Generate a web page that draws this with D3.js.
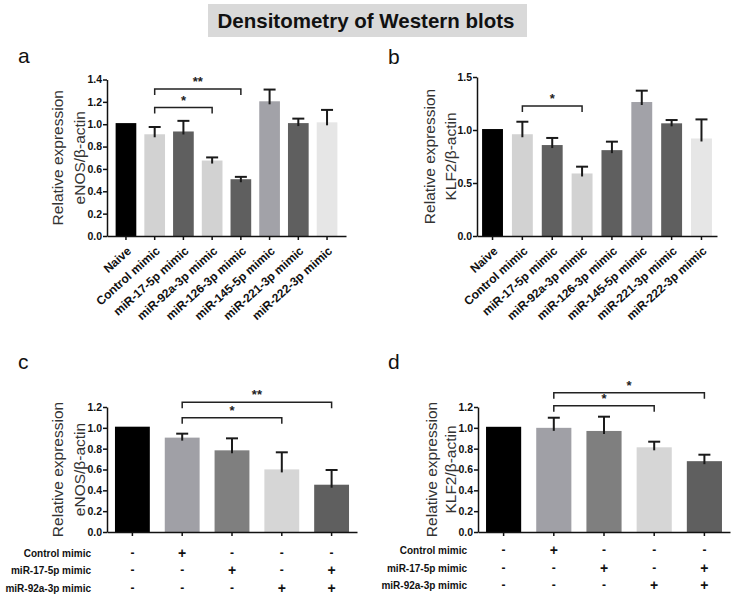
<!DOCTYPE html>
<html><head><meta charset="utf-8">
<script src="https://cdn.jsdelivr.net/npm/d3@7"></script>
<style>body{margin:0;background:#fff;} text{font-family:"Liberation Sans",Arial,sans-serif;}</style>
</head><body>
<svg id="chart" width="733" height="598"></svg>
<script>
// ---- data ----
const catsAB = ["Naive","Control mimic","miR-17-5p mimic","miR-92a-3p mimic","miR-126-3p mimic","miR-145-5p mimic","miR-221-3p mimic","miR-222-3p mimic"];
const eNOS_a = [1.01, 0.91, 0.935, 0.675, 0.508, 1.205, 1.01, 1.017];
const eNOS_a_err = [0, 0.065, 0.095, 0.028, 0.021, 0.105, 0.04, 0.111];
const KLF2_b = [1.009, 0.96, 0.858, 0.59, 0.81, 1.264, 1.063, 0.92];
const KLF2_b_err = [0, 0.118, 0.067, 0.064, 0.08, 0.107, 0.031, 0.18];
const catsCD = ["G1","G2","G3","G4","G5"];
const eNOS_c = [1.011, 0.906, 0.784, 0.601, 0.454];
const eNOS_c_err = [0, 0.038, 0.115, 0.164, 0.141];
const KLF2_d = [1.01, 1.0, 0.97, 0.813, 0.68];
const KLF2_d_err = [0, 0.097, 0.137, 0.054, 0.062];
const colorsAB = ["#000000","#d2d2d2","#5f5f5f","#d2d2d2","#5f5f5f","#a2a2a8","#5f5f5f","#e6e6e6"];
const colorsCD = ["#000000","#a0a0a6","#7f7f7f","#d6d6d6","#5f5f5f"];
const tableRows = ["Control mimic","miR-17-5p mimic","miR-92a-3p mimic"];
const tableSigns = [["-","+","-","-","-"],["-","-","+","-","+"],["-","-","-","+","+"]];
const ticksA = [0,0.2,0.4,0.6,0.8,1.0,1.2,1.4];
const ticksB = [0,0.5,1.0,1.5];
const ticksCD = [0,0.2,0.4,0.6,0.8,1.0,1.2];

const svg = d3.select("#chart");
const FONT = '"Liberation Sans",Arial,sans-serif';

// title
svg.append("rect").attr("x",208).attr("y",4).attr("width",319).attr("height",33).attr("fill","#d9d9d9");
svg.append("text").attr("x",366).attr("y",28).attr("text-anchor","middle")
  .attr("font-size",20.5).attr("font-weight","bold").attr("fill","#111").text("Densitometry of Western blots");

function panel(o){
  const g = svg.append("g");
  const x = d3.scaleBand().domain(o.cats).range(o.xr).paddingInner(o.pi).paddingOuter(o.po);
  const y = d3.scaleLinear().domain([0,o.ymax]).range(o.yr);
  // bars
  g.selectAll("rect.bar").data(o.vals).join("rect")
    .attr("x",(d,i)=>x(o.cats[i])).attr("width",x.bandwidth())
    .attr("y",d=>y(d)).attr("height",d=>y(0)-y(d))
    .attr("fill",(d,i)=>o.colors[i]);
  // error bars
  o.vals.forEach((v,i)=>{
    if(!o.err[i]) return;
    const cx = x(o.cats[i])+x.bandwidth()/2;
    g.append("line").attr("x1",cx).attr("x2",cx).attr("y1",y(v)+3).attr("y2",y(v+o.err[i]))
      .attr("stroke","#1a1a1a").attr("stroke-width",2);
    g.append("line").attr("x1",cx-o.cap).attr("x2",cx+o.cap).attr("y1",y(v+o.err[i])).attr("y2",y(v+o.err[i]))
      .attr("stroke","#1a1a1a").attr("stroke-width",2);
  });
  // y axis
  const ya = g.append("g").attr("transform",`translate(${o.xr[0]},0)`)
    .call(d3.axisLeft(y).tickValues(o.ticks).tickSize(4).tickSizeOuter(0).tickFormat(d3.format(".1f")));
  ya.select(".domain").attr("stroke","#111").attr("stroke-width",1.5);
  ya.selectAll(".tick line").attr("stroke","#111").attr("stroke-width",1.5);
  ya.selectAll(".tick text").attr("font-size",10.5).attr("font-weight","bold").attr("fill","#111").attr("font-family",FONT).attr("x",-5);
  // x axis
  const xa = g.append("g").attr("transform",`translate(0,${o.yr[0]})`)
    .call(d3.axisBottom(x).tickSize(4).tickSizeOuter(0));
  xa.select(".domain").attr("stroke","#111").attr("stroke-width",1.5);
  xa.selectAll(".tick line").attr("stroke","#111").attr("stroke-width",1.5);
  if(o.rotLabels){
    xa.selectAll(".tick text").attr("font-size",12).attr("font-weight","bold").attr("fill","#111")
      .attr("font-family",FONT).attr("text-anchor","end").attr("y",0).attr("dy",0)
      .attr("transform","translate(6,16) rotate(-42)");
  } else {
    xa.selectAll(".tick text").remove();
  }
  // y label
  const ly = (o.yr[0]+o.yr[1])/2;
  o.ylab.forEach((t,k)=>{
    g.append("text").attr("transform",`translate(${o.ylx[k]},${ly}) rotate(-90)`)
      .attr("text-anchor","middle").attr("font-size",15.5).attr("fill","#333").text(t);
  });
  // panel letter
  g.append("text").attr("x",o.letter[0]).attr("y",o.letter[1]).attr("font-size",21).attr("fill","#111").text(o.letterT);
  // brackets
  o.brackets.forEach(b=>{
    const x1 = x(o.cats[b[0]])+x.bandwidth()/2, x2 = x(o.cats[b[1]])+x.bandwidth()/2;
    g.append("path").attr("d",`M${x1},${b[2]+6}V${b[2]}H${x2}V${b[2]+6}`)
      .attr("fill","none").attr("stroke","#222").attr("stroke-width",1.5);
    g.append("text").attr("x",(x1+x2)/2).attr("y",b[2]-3).attr("text-anchor","middle")
      .attr("font-size",13).attr("font-weight","bold").attr("fill","#222").text(b[3]);
  });
  // table
  if(o.table){
    tableRows.forEach((r,ri)=>{
      const yy = o.table.rows[ri];
      g.append("text").attr("x",o.table.lx).attr("y",yy).attr("text-anchor","end").attr("dominant-baseline","middle")
        .attr("font-size",10).attr("font-weight","bold").attr("fill","#111").text(r);
      tableSigns[ri].forEach((s,ci)=>{
        g.append("text").attr("x",x(o.cats[ci])+x.bandwidth()/2).attr("y",yy).attr("text-anchor","middle")
          .attr("dominant-baseline","middle").attr("font-size",s==="+"?14:12).attr("font-weight","bold")
          .attr("fill","#111").text(s);
      });
    });
  }
}

panel({cats:catsAB, vals:eNOS_a, err:eNOS_a_err, colors:colorsAB, xr:[107,346], pi:0.28, po:0.3,
  ymax:1.4, yr:[236,79.5], ticks:ticksA, cap:6, rotLabels:true, ylab:["Relative expression","eNOS/β-actin"], ylx:[63,85],
  letter:[18,63], letterT:"a", brackets:[[1,4,89,"**"],[1,3,107.5,"*"]]});
panel({cats:catsAB, vals:KLF2_b, err:KLF2_b_err, colors:colorsAB, xr:[477,717], pi:0.3, po:0.17,
  ymax:1.5, yr:[236,77], ticks:ticksB, cap:6, rotLabels:true, ylab:["Relative expression","KLF2/β-actin"], ylx:[435,456],
  letter:[388,64], letterT:"b", brackets:[[1,3,106,"*"]]});
panel({cats:catsCD, vals:eNOS_c, err:eNOS_c_err, colors:colorsCD, xr:[107,357], pi:0.3, po:0.16,
  ymax:1.2, yr:[532,407], ticks:ticksCD, cap:6, rotLabels:false, ylab:["Relative expression","eNOS/β-actin"], ylx:[63,85],
  letter:[18,369], letterT:"c", brackets:[[1,4,402.3,"**"],[1,3,417.7,"*"]],
  table:{lx:91, rows:[554,571,589]}});
panel({cats:catsCD, vals:KLF2_d, err:KLF2_d_err, colors:colorsCD, xr:[478,730], pi:0.3, po:0.16,
  ymax:1.2, yr:[532,407], ticks:ticksCD, cap:6, rotLabels:false, ylab:["Relative expression","KLF2/β-actin"], ylx:[437,456],
  letter:[388,369], letterT:"d", brackets:[[1,4,392.7,"*"],[1,3,405.7,"*"]],
  table:{lx:467, rows:[551,569,586]}});
</script>
</body></html>
